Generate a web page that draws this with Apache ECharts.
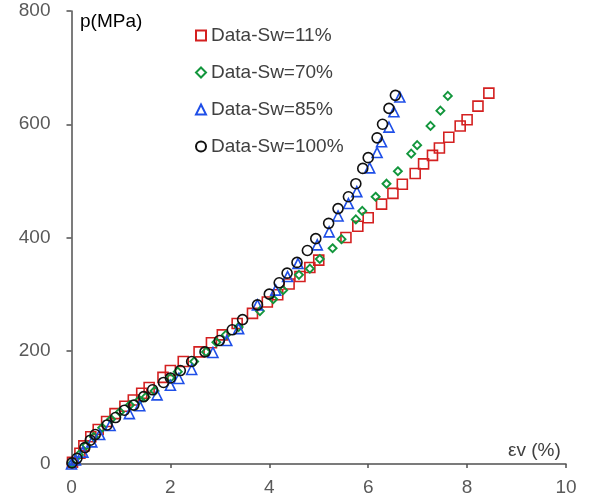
<!DOCTYPE html>
<html>
<head>
<meta charset="utf-8">
<script src="https://cdn.jsdelivr.net/npm/echarts@6/dist/echarts.min.js"></script>
<style>html,body{margin:0;padding:0;background:#fff;}#c{width:595px;height:498px;}</style>
</head>
<body>
<div id="c"></div>
<script>
var seriesNames = ['Data-Sw=11%', 'Data-Sw=70%', 'Data-Sw=85%', 'Data-Sw=100%'];
var xTicks = [0, 2, 4, 6, 8, 10];
var yTicks = [0, 200, 400, 600, 800];

var sw11 = [[0.02,3],[0.17,19],[0.25,32],[0.39,48],[0.54,61],[0.71,75],[0.88,89],[1.08,102],[1.25,113],[1.42,125],[1.57,135],[1.85,153],[2.0,165],[2.26,181],[2.58,198],[2.83,214],[3.05,228],[3.35,248],[3.66,266],[3.96,286],[4.17,299],[4.4,318],[4.62,331],[4.82,347],[5.0,360],[5.55,400],[5.79,420],[6.0,435],[6.27,459],[6.5,478],[6.69,494],[6.95,513],[7.12,530],[7.3,545],[7.44,558],[7.63,577],[7.86,597],[8.0,608],[8.22,632],[8.44,655]];
var sw70 = [[0.01,1],[0.15,16],[0.3,33],[0.45,48],[0.62,64],[0.8,79],[0.98,92],[1.18,104],[1.37,113],[1.5,118],[1.68,129],[2.0,152],[2.15,163],[2.48,181],[2.72,198],[2.93,215],[3.12,228],[3.38,242],[3.81,270],[4.08,291],[4.28,307],[4.6,334],[4.82,345],[5.02,362],[5.28,381],[5.46,397],[5.75,432],[5.88,447],[6.15,472],[6.37,495],[6.6,517],[6.87,548],[6.99,563],[7.26,597],[7.46,624],[7.61,650]];
var sw85 = [[0.0,0],[0.08,7],[0.23,21],[0.41,39],[0.57,52],[0.78,68],[1.17,89],[1.38,103],[1.73,122],[2.0,139],[2.17,151],[2.43,167],[2.86,197],[3.14,218],[3.38,239],[3.76,281],[4.13,307],[4.37,331],[4.58,354],[4.97,387],[5.21,410],[5.39,438],[5.6,460],[5.77,481],[6.03,523],[6.18,550],[6.27,569],[6.42,595],[6.52,622],[6.64,648]];
var sw100 = [[0.01,2],[0.11,10],[0.27,29],[0.38,42],[0.48,52],[0.72,69],[0.89,82],[1.07,95],[1.26,104],[1.46,119],[1.64,131],[1.86,144],[2.0,152],[2.2,165],[2.43,181],[2.7,198],[2.99,218],[3.25,237],[3.46,255],[3.76,281],[4.0,300],[4.2,320],[4.36,337],[4.56,356],[4.77,377],[4.94,398],[5.2,425],[5.39,451],[5.6,472],[5.75,495],[5.89,522],[6.0,541],[6.18,576],[6.29,600],[6.42,628],[6.55,651]];

var chart = echarts.init(document.getElementById('c'), null, {renderer: 'canvas'});
var font = 'Liberation Sans, Arial, sans-serif';
var axisCol = '#505050';
function mk(name, data, symbol, size, col, bw) {
  return {
    name: name, type: 'scatter', data: data, symbol: symbol, symbolSize: size,
    itemStyle: {color: 'rgba(255,255,255,0)', borderColor: col, borderWidth: bw, opacity: 1},
    emphasis: {disabled: true}, z: 2
  };
}
chart.setOption({
  animation: false,
  backgroundColor: '#fff',
  grid: {left: 71.5, right: 29, top: 11, bottom: 34, containLabel: false},
  xAxis: {
    type: 'value', min: xTicks[0], max: xTicks[xTicks.length-1], interval: 2,
    axisLine: {show: true, onZero: false, lineStyle: {color: axisCol, width: 1.5}},
    axisTick: {show: true, inside: false, length: 4, lineStyle: {color: axisCol, width: 1.5}},
    axisLabel: {color: '#595959', fontSize: 19, fontFamily: font, margin: 14},
    splitLine: {show: false}
  },
  yAxis: {
    type: 'value', min: yTicks[0], max: yTicks[yTicks.length-1], interval: 200,
    axisLine: {show: true, onZero: false, lineStyle: {color: axisCol, width: 1.5}},
    axisTick: {show: true, inside: false, length: 5, lineStyle: {color: axisCol, width: 1.5}},
    axisLabel: {color: '#595959', fontSize: 19, fontFamily: font, margin: 21},
    splitLine: {show: false}
  },
  legend: {
    orient: 'vertical', left: 190, top: 21, itemGap: 18, itemWidth: 10, itemHeight: 10,
    textStyle: {color: '#404040', fontSize: 19, fontFamily: font},
    data: seriesNames.map(function(n, i){
      var sym = ['rect','diamond','triangle','circle'][i];
      return {name: n, icon: sym};
    })
  },
  graphic: [
    {type: 'text', left: 80, top: 12, style: {text: 'p(MPa)', fill: '#000', font: '19px ' + font}},
    {type: 'text', left: 508, top: 441, style: {text: 'εv (%)', fill: '#404040', font: '19px ' + font}}
  ],
  series: [
    mk(seriesNames[0], sw11, 'rect', 10, '#d42020', 1.6),
    mk(seriesNames[1], sw70, 'diamond', 8, '#12963c', 1.9),
    mk(seriesNames[2], sw85, 'triangle', 10, '#1f4fe8', 1.6),
    mk(seriesNames[3], sw100, 'circle', 10, '#111111', 1.6)
  ]
});
</script>
</body>
</html>
